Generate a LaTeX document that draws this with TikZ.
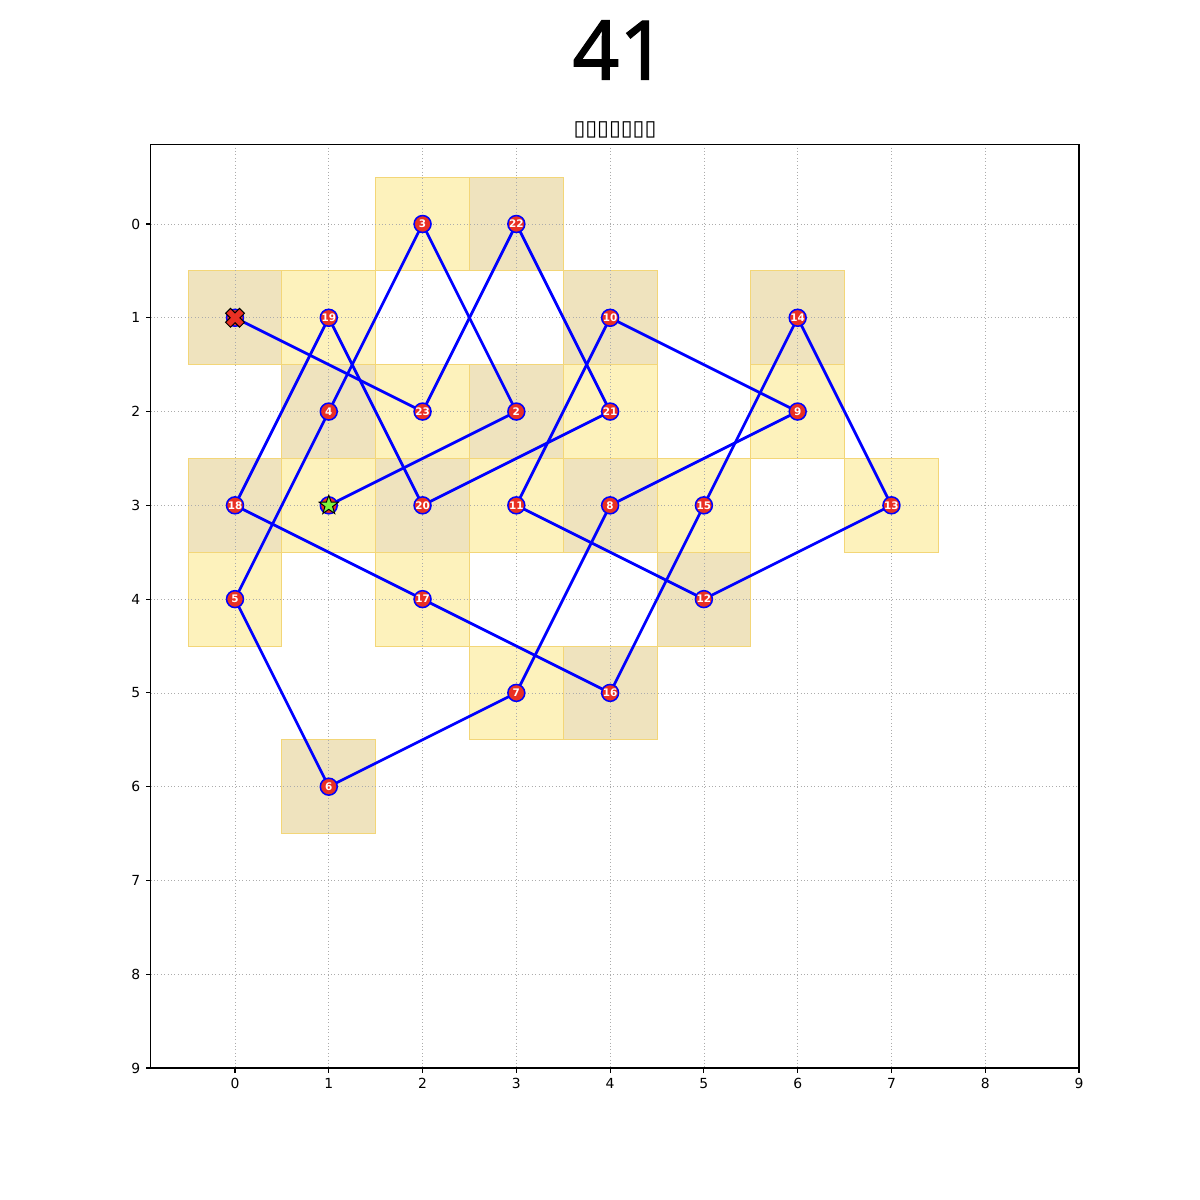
\documentclass[tikz,border=0pt]{standalone}
\usepackage{fontspec}
\setmainfont{DejaVu Sans}
\newfontfamily\titlefont[FakeBold=1.6]{Noto Sans}
\usetikzlibrary{shapes.geometric}

\definecolor{cellA}{RGB}{253,242,188}
\definecolor{cellB}{RGB}{239,227,190}
\definecolor{celledge}{RGB}{243,214,120}
\definecolor{dotred}{RGB}{233,48,36}
\definecolor{stargreen}{RGB}{126,246,62}
\pgfdeclarelayer{cells}
\pgfdeclarelayer{route}
\pgfsetlayers{cells,route,main}

\tikzset{
	spot/.style={circle, fill=dotred, draw=blue, line width=1.1pt, minimum size=12.2pt, inner sep=0pt,
		text=white, font=\fontsize{7.5}{8}\selectfont\bfseries},
	hop/.style={line width=2pt, color=blue},
	gridline/.style={gray!65, line width=0.45pt, dotted},
	cellbox/.style={draw=celledge, line width=0.6pt},
	ticklabel/.style={font=\fontsize{10}{12}\selectfont, inner sep=0pt}
}

\begin{document}
\begin{tikzpicture}
	\useasboundingbox (0,0) rectangle (864pt,-864pt);
	%标题
	\node[font=\titlefont\fontsize{59}{59}\selectfont, inner sep=0pt] (title) at (446pt,-36pt) {41};
	\node[font=\fontsize{15.5}{17}\selectfont, inner sep=0pt] (subtitle) at (442.8pt,-93.6pt) {▯▯▯▯▯▯▯};
	\begin{scope}[shift={(169.2pt,-161.28pt)}, x=67.52pt, y=-67.52pt]
		%格子
		\begin{pgfonlayer}{cells}
			\foreach \x/\y in {2/0,1/1,2/2,4/2,6/2,1/3,3/3,5/3,7/3,0/4,2/4,3/5}
				\filldraw[cellbox, fill=cellA] (\x-0.5,\y-0.5) rectangle (\x+0.5,\y+0.5);
			\foreach \x/\y in {3/0,0/1,4/1,6/1,1/2,3/2,0/3,2/3,4/3,5/4,4/5,1/6}
				\filldraw[cellbox, fill=cellB] (\x-0.5,\y-0.5) rectangle (\x+0.5,\y+0.5);
			\foreach \i in {0,...,8} {
				\draw[gridline] (\i,-0.85) -- (\i,9);
				\draw[gridline] (-0.9,\i) -- (9,\i);
			}
		\end{pgfonlayer}
		%坐标轴
		\draw[line width=0.8pt] (-0.9,-0.85) rectangle (9,9);
		\foreach \i in {0,...,9} {
			\draw[line width=0.8pt] (\i,9) -- ++(0pt,-3.5pt) node[below=3.5pt, ticklabel] {\i};
			\draw[line width=0.8pt] (-0.9,\i) -- ++(-3.5pt,0pt) node[left=3.5pt, ticklabel] {\i};
		}
		%路径上的点
		\node[spot] (p1) at (1,3) {};
		\foreach \n/\x/\y in {2/3/2,3/2/0,4/1/2,5/0/4,6/1/6,7/3/5,8/4/3,9/6/2,10/4/1,11/3/3,12/5/4,
			13/7/3,14/6/1,15/5/3,16/4/5,17/2/4,18/0/3,19/1/1,20/2/3,21/4/2,22/3/0,23/2/2}
			\node[spot] (p\n) at (\x,\y) {\n};
		\node[spot] (p24) at (0,1) {};
		\begin{pgfonlayer}{route}
			\foreach \a [evaluate=\a as \b using int(\a+1)] in {1,...,23}
				\draw[hop] (p\a.center) -- (p\b.center);
		\end{pgfonlayer}
		%起点和终点
		\node[star, star points=5, star point ratio=2.5, fill=stargreen, draw=black, line width=0.7pt,
			minimum size=14.5pt, inner sep=0pt] (start) at (p1) {};
		\filldraw[fill=dotred, draw=black, line width=0.7pt, shift={(p24)}, rotate=45]
			(2.5pt,2.5pt) -- (2.5pt,7.1pt) -- (-2.5pt,7.1pt) -- (-2.5pt,2.5pt) -- (-7.1pt,2.5pt)
			-- (-7.1pt,-2.5pt) -- (-2.5pt,-2.5pt) -- (-2.5pt,-7.1pt) -- (2.5pt,-7.1pt)
			-- (2.5pt,-2.5pt) -- (7.1pt,-2.5pt) -- (7.1pt,2.5pt) -- cycle;
	\end{scope}
\end{tikzpicture}
\end{document}
